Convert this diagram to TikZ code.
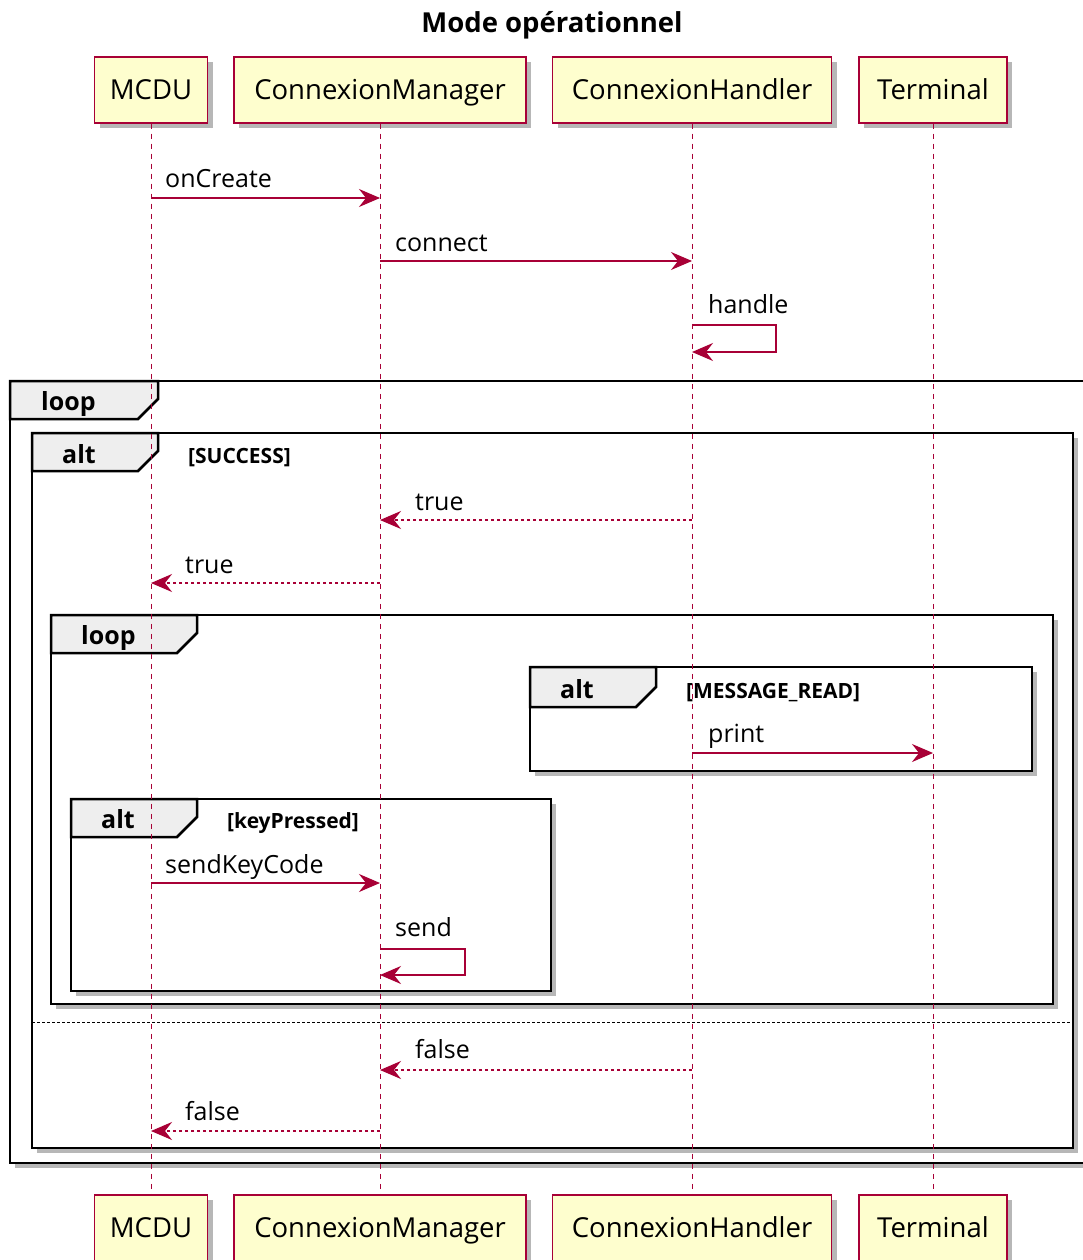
\documentclass[tikz,border=0pt]{standalone}
\usepackage{fontspec}
\setmainfont{Open Sans}
\usetikzlibrary{arrows.meta,shadows}
\definecolor{plred}{HTML}{A80036}
\definecolor{plfill}{HTML}{FEFECE}
\definecolor{tabgray}{HTML}{EEEEEE}
\begin{document}
\begin{tikzpicture}[x=1pt,y=-1pt,
  shad/.style={drop shadow={shadow xshift=5pt, shadow yshift=-5pt, opacity=0.4, fill=black!70}},
  part/.style={draw=plred, fill=plfill, line width=1.5pt, inner sep=0pt,
    minimum height=66pt, text height=22pt, text depth=3pt,
    font=\fontsize{27.5}{30}\selectfont, shad},
  lifeline/.style={draw=plred, line width=1pt, dash pattern=on 5pt off 5pt},
  msg/.style={draw=plred, line width=1.5pt, -{Stealth[length=21pt,width=18pt,inset=7pt]}},
  ret/.style={msg, dash pattern=on 3pt off 3pt},
  lbl/.style={anchor=base west, inner sep=0pt, font=\fontsize{25}{28}\selectfont},
  frm/.style={draw=black, line width=2.8pt, fill=white, shad},
  tabshape/.style={draw=black, line width=2.5pt, fill=tabgray},
  kw/.style={anchor=base west, inner sep=0pt, font=\bfseries\fontsize{25}{28}\selectfont},
  guard/.style={anchor=base west, inner sep=0pt, font=\bfseries\fontsize{21}{24}\selectfont},
]
\useasboundingbox[fill=white] (0,0) rectangle (1083,1260);

\node[anchor=base, font=\bfseries\fontsize{27.5}{30}\selectfont] (title) at (552,33) {Mode opérationnel};

% participants
\node[part, minimum width=113pt] (mt) at (151,90) {MCDU};
\node[part, minimum width=292pt] (cmt) at (380,90) {ConnexionManager};
\node[part, minimum width=279pt] (cht) at (692,90) {ConnexionHandler};
\node[part, minimum width=148pt] (tt) at (933,90) {Terminal};
\node[part, minimum width=113pt] (mb) at (151,1228) {MCDU};
\node[part, minimum width=292pt] (cmb) at (380,1228) {ConnexionManager};
\node[part, minimum width=279pt] (chb) at (692,1228) {ConnexionHandler};
\node[part, minimum width=148pt] (tb) at (933,1228) {Terminal};

% frames
% outer loop
\path[frm] (10,381) rectangle (1100,1163);
\path[tabshape] (10,381) -- (158,381) -- (158,399) -- (138,419) -- (10,419) -- cycle;
\node[kw] (loop1) at (41,410) {loop};
% alt SUCCESS
\path[frm] (32,433) rectangle (1073,1148);
\path[tabshape] (32,433) -- (158,433) -- (158,451) -- (138,471) -- (32,471) -- cycle;
\node[kw] (alt1) at (62,463) {alt};
\node[guard] (g1) at (188,463) {[SUCCESS]};
% inner loop
\path[frm] (51,615) rectangle (1053,1004);
\path[tabshape] (51,615) -- (197,615) -- (197,633) -- (177,653) -- (51,653) -- cycle;
\node[kw] (loop2) at (81,644) {loop};
% alt MESSAGE_READ
\path[frm] (530,667) rectangle (1032,771);
\path[tabshape] (530,667) -- (656,667) -- (656,687) -- (636,707) -- (530,707) -- cycle;
\node[kw] (alt2) at (560,698) {alt};
\node[guard] (g2) at (686,698) {[MESSAGE\_READ]};
% alt keyPressed
\path[frm] (71,799) rectangle (551,991);
\path[tabshape] (71,799) -- (197,799) -- (197,817) -- (177,837) -- (71,837) -- cycle;
\node[kw] (alt3) at (101,828) {alt};
\node[guard] (g3) at (227,828) {[keyPressed]};
% else separator
\draw[line width=1pt, dash pattern=on 3pt off 2pt] (32,1022) -- (1073,1022);

% lifelines
\draw[lifeline] (mt.south) -- (mb.north);
\draw[lifeline] (cmt.south) -- (cmb.north);
\draw[lifeline] (cht.south) -- (chb.north);
\draw[lifeline] (tt.south) -- (tb.north);

% messages
\draw[msg] (mt |- 0,198) -- (cmt |- 0,198);
\node[lbl] (l1) at (165,188) {onCreate};
\draw[msg] (cmt |- 0,261) -- (cht |- 0,261);
\node[lbl] (l2) at (395,251) {connect};
\draw[msg] (cht |- 0,325) -- (776,325) -- (776,352) -- (cht |- 0,352);
\node[lbl] (l3) at (708,313) {handle};

\draw[ret] (cht |- 0,520) -- (cmt |- 0,520);
\node[lbl] (l4) at (415,510) {true};
\draw[ret] (cmt |- 0,583) -- (mt |- 0,583);
\node[lbl] (l5) at (185,573) {true};

\draw[msg] (cht |- 0,753) -- (tt |- 0,753);
\node[lbl] (l6) at (708,742) {print};

\draw[msg] (mt |- 0,883) -- (cmt |- 0,883);
\node[lbl] (l7) at (165,873) {sendKeyCode};
\draw[msg] (cmt |- 0,949) -- (465,949) -- (465,975) -- (cmt |- 0,975);
\node[lbl] (l8) at (395,936) {send};

\draw[ret] (cht |- 0,1070) -- (cmt |- 0,1070);
\node[lbl] (l9) at (415,1058) {false};
\draw[ret] (cmt |- 0,1131) -- (mt |- 0,1131);
\node[lbl] (l10) at (185,1120) {false};
\end{tikzpicture}
\end{document}
